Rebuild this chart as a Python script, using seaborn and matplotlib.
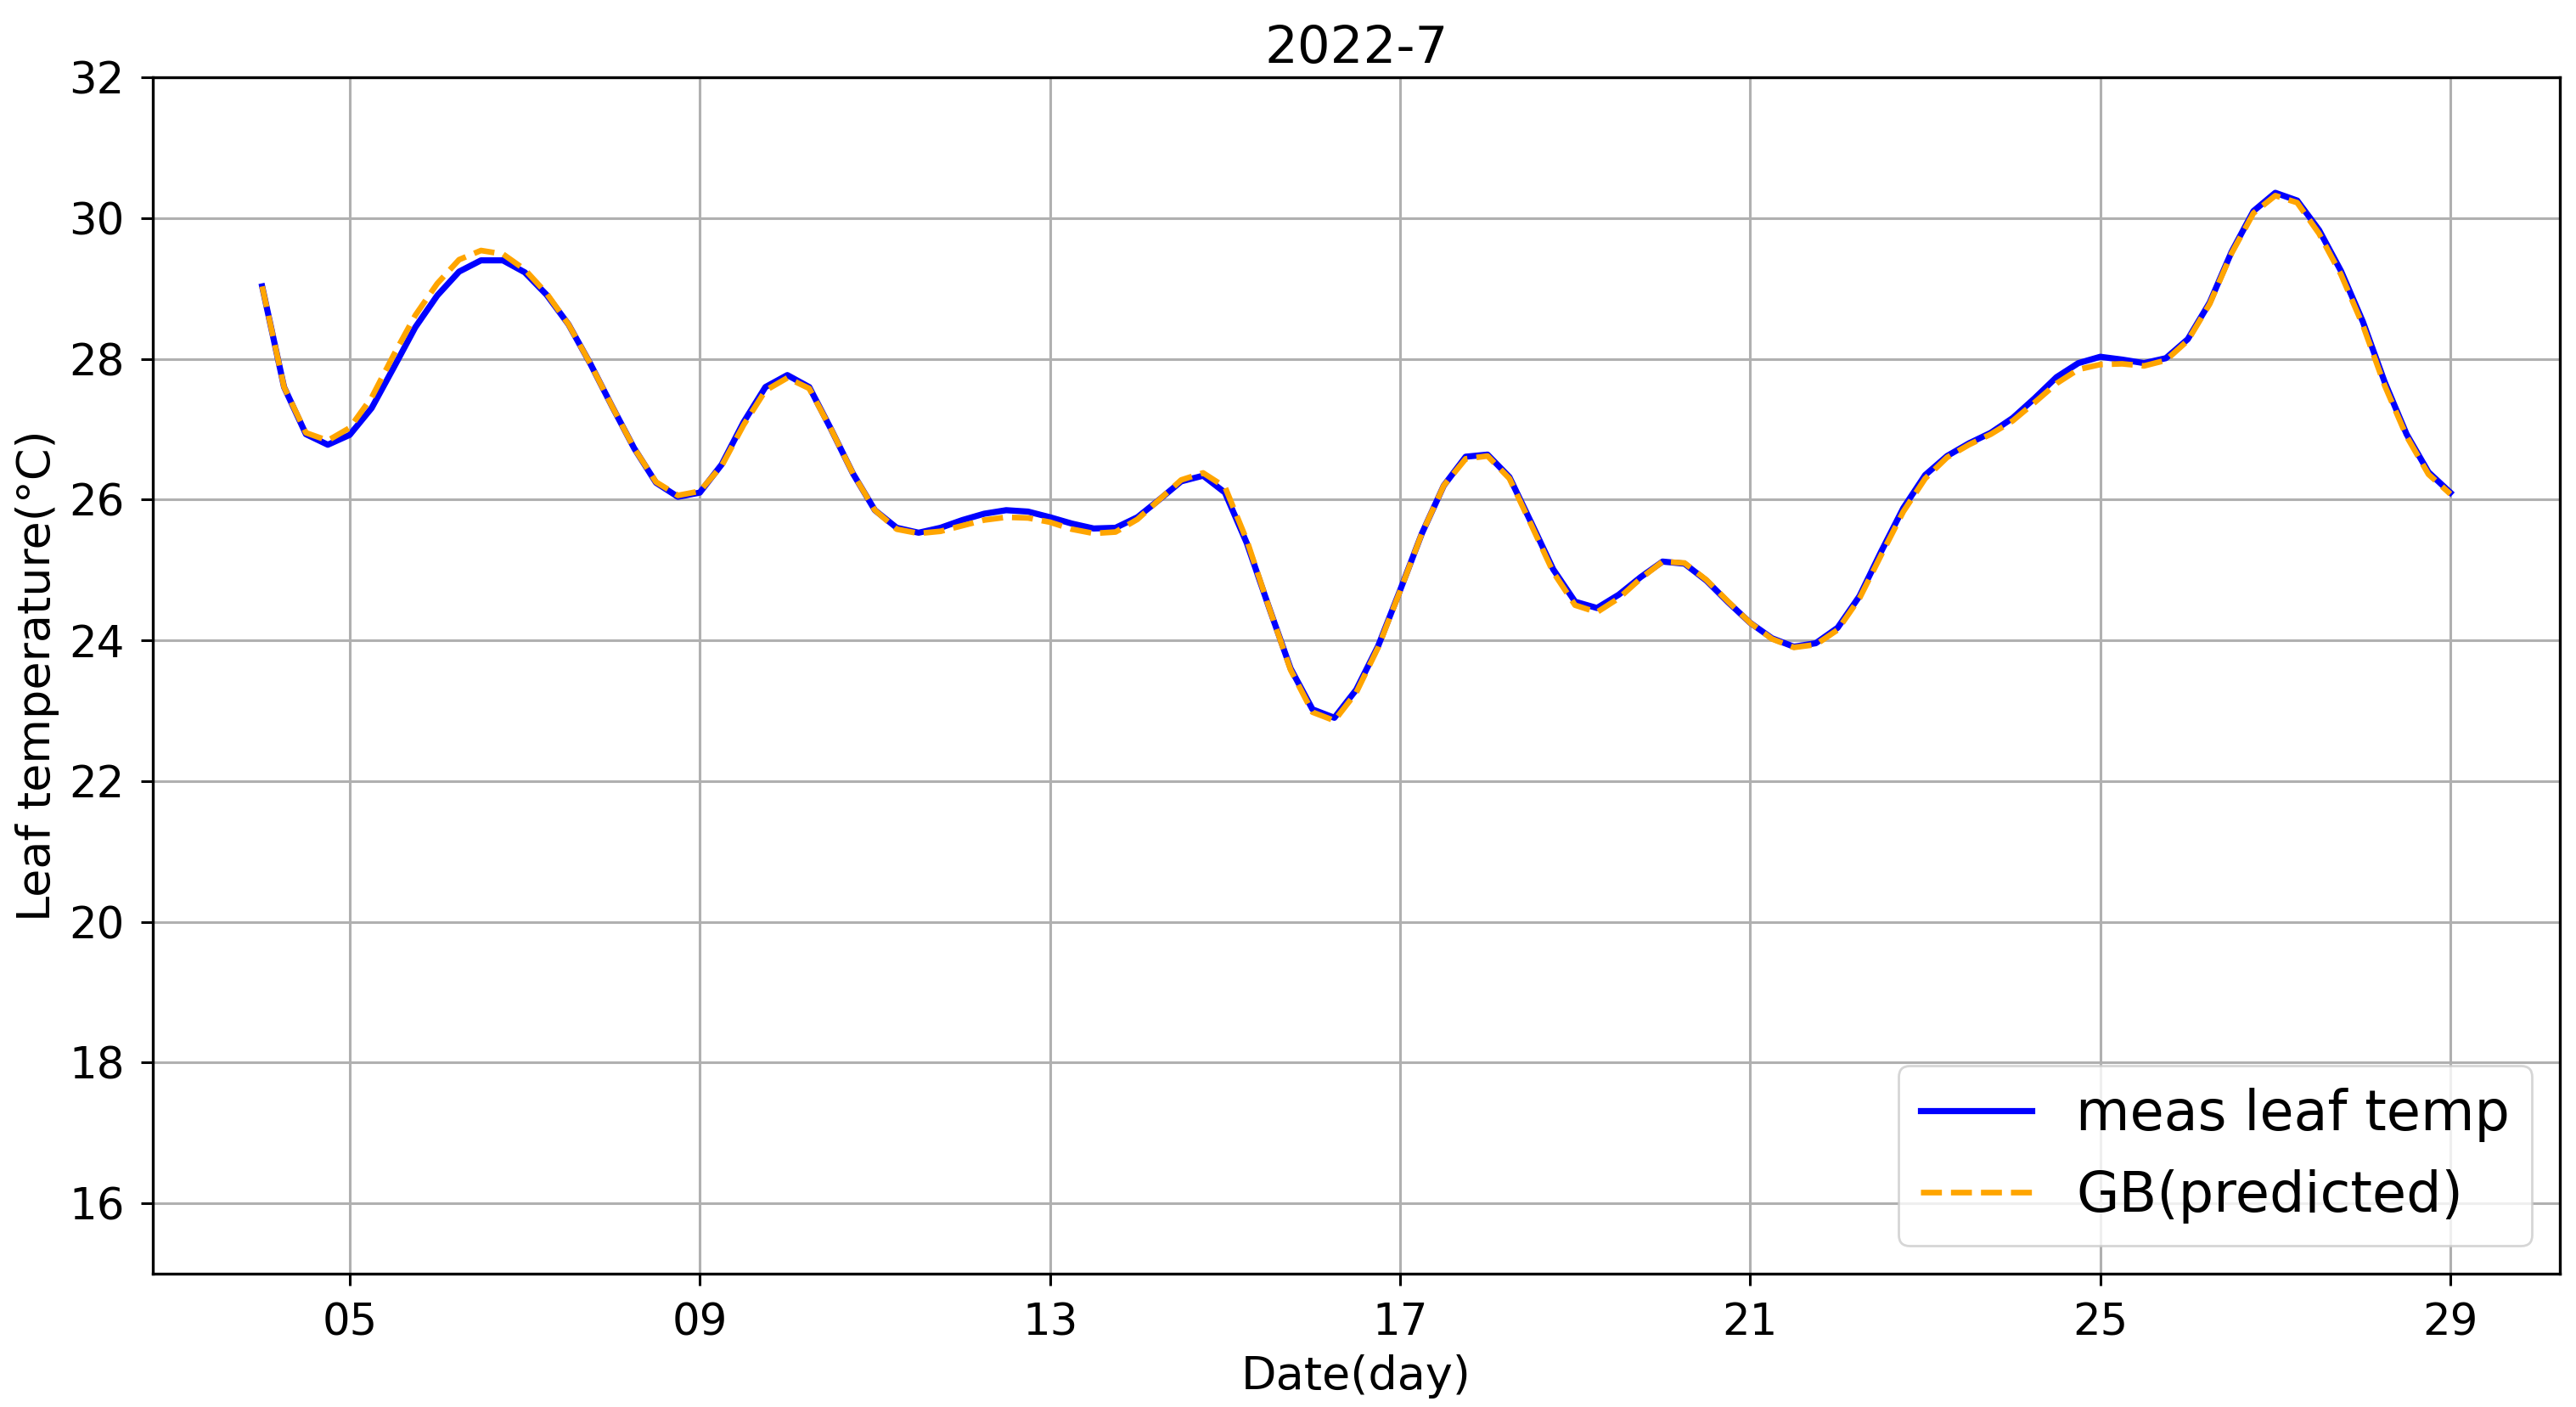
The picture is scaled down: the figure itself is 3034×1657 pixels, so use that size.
import numpy as np
import pandas as pd
import matplotlib
matplotlib.use("Agg")
import matplotlib.pyplot as plt
import matplotlib.dates as mdates
import seaborn as sns

# 6-hourly samples, 2022-07-04 00:00 .. 2022-07-29 00:00
times = pd.date_range("2022-07-04 00:00", "2022-07-29 00:00", freq="6h")

meas_leaf_temp = [
    29.03, 27.60, 26.93, 26.78, 26.92, 27.30, 27.87, 28.45, 28.90, 29.24,
    29.40, 29.40, 29.23, 28.91, 28.49, 27.93, 27.32, 26.73, 26.24, 26.04,
    26.10, 26.50, 27.10, 27.60, 27.77, 27.60, 27.00, 26.37, 25.85, 25.60,
    25.53, 25.60, 25.71, 25.80, 25.85, 25.83, 25.75, 25.66, 25.59, 25.60,
    25.75, 26.00, 26.26, 26.34, 26.10, 25.38, 24.48, 23.60, 23.02, 22.90,
    23.30, 23.92, 24.71, 25.52, 26.20, 26.61, 26.64, 26.32, 25.67, 25.01,
    24.55, 24.46, 24.65, 24.90, 25.12, 25.09, 24.85, 24.54, 24.25, 24.03,
    23.91, 23.96, 24.18, 24.63, 25.27, 25.88, 26.35, 26.62, 26.80, 26.95,
    27.16, 27.44, 27.74, 27.94, 28.03, 27.99, 27.94, 28.01, 28.28, 28.80,
    29.52, 30.10, 30.36, 30.25, 29.83, 29.25, 28.53, 27.67, 26.93, 26.39,
    26.10,
]

gb_predicted = [
    29.03, 27.60, 26.95, 26.84, 27.02, 27.45, 28.05, 28.62, 29.07, 29.41,
    29.54, 29.49, 29.27, 28.93, 28.49, 27.93, 27.32, 26.73, 26.25, 26.06,
    26.12, 26.48, 27.06, 27.55, 27.73, 27.58, 27.00, 26.37, 25.85, 25.58,
    25.52, 25.55, 25.63, 25.71, 25.75, 25.74, 25.68, 25.58, 25.52, 25.54,
    25.72, 26.00, 26.28, 26.38, 26.18, 25.42, 24.48, 23.58, 22.98, 22.86,
    23.26, 23.90, 24.70, 25.52, 26.20, 26.58, 26.62, 26.30, 25.64, 24.97,
    24.50, 24.40, 24.60, 24.88, 25.12, 25.10, 24.86, 24.55, 24.25, 24.02,
    23.90, 23.94, 24.15, 24.60, 25.22, 25.83, 26.30, 26.60, 26.78, 26.93,
    27.12, 27.38, 27.65, 27.85, 27.92, 27.93, 27.90, 27.98, 28.26, 28.78,
    29.50, 30.07, 30.32, 30.22, 29.78, 29.20, 28.48, 27.62, 26.90, 26.36,
    26.08,
]

y_ticks = [16, 18, 20, 22, 24, 26, 28, 30, 32]

df = pd.DataFrame({"time": times, "meas": meas_leaf_temp, "gb": gb_predicted})

plt.rcParams["axes.linewidth"] = 1.2
plt.rcParams["font.family"] = ["DejaVu Sans"]

fig = plt.figure(figsize=(15.17, 8.285), dpi=200)
ax = fig.add_axes([0.0593, 0.0947, 0.9344, 0.8503])

sns.lineplot(data=df, x="time", y="meas", ax=ax, color="blue",
             linewidth=2.6, label="meas leaf temp")
sns.lineplot(data=df, x="time", y="gb", ax=ax, color="orange",
             linewidth=2.4, linestyle="--", label="GB(predicted)")

ax.set_xlim(pd.Timestamp("2022-07-02 18:00"), pd.Timestamp("2022-07-30 06:00"))
ax.set_ylim(15, 32)
ax.set_yticks(y_ticks)
ax.xaxis.set_major_locator(mdates.DayLocator(bymonthday=range(1, 32, 4)))
ax.xaxis.set_major_formatter(mdates.DateFormatter("%d"))

ax.grid(True, color="#b0b0b0", linewidth=1.1)
ax.tick_params(axis="both", labelsize=18.5, length=5, width=1.1, pad=7)

ax.set_title("2022-7", fontsize=22)
ax.set_xlabel("Date(day)", fontsize=19.5, labelpad=4)
ax.set_ylabel("Leaf temperature(°C)", fontsize=19.5, labelpad=4)
ax.legend(loc="lower right", fontsize=23.5)

fig.savefig("out.png", dpi=200)
